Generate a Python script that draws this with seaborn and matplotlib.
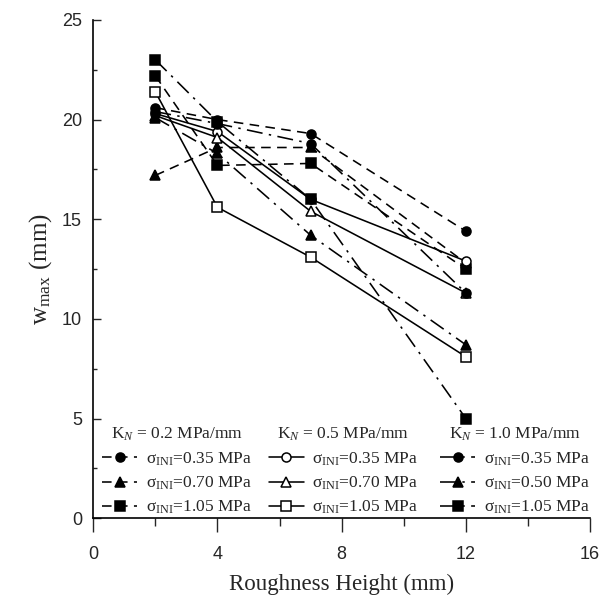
import numpy as np
import pandas as pd
import seaborn as sns
import matplotlib
matplotlib.use("Agg")
import matplotlib.pyplot as plt
from matplotlib.ticker import MultipleLocator

# ---- data ----
roughness = [2, 4, 7, 12]

kn02_s035 = [20.6, 20.0, 19.3, 14.4]
kn02_s070 = [17.2, 18.6, 18.6, 12.8]
kn02_s105 = [22.2, 17.7, 17.8, 12.5]

kn05_s035 = [20.3, 19.4, 16.0, 12.9]
kn05_s070 = [20.2, 19.1, 15.4, 11.3]
kn05_s105 = [21.4, 15.6, 13.1, 8.1]

kn10_s035 = [20.4, 19.8, 18.8, 11.3]
kn10_s050 = [20.1, 18.3, 14.2, 8.7]
kn10_s105 = [23.0, 19.9, 16.0, 5.0]

group_titles = ["K$_N$ = 0.2 MPa/mm", "K$_N$ = 0.5 MPa/mm", "K$_N$ = 1.0 MPa/mm"]
labels_02 = ["σ$_{\\rm INI}$=0.35 MPa", "σ$_{\\rm INI}$=0.70 MPa", "σ$_{\\rm INI}$=1.05 MPa"]
labels_05 = ["σ$_{\\rm INI}$=0.35 MPa", "σ$_{\\rm INI}$=0.70 MPa", "σ$_{\\rm INI}$=1.05 MPa"]
labels_10 = ["σ$_{\\rm INI}$=0.35 MPa", "σ$_{\\rm INI}$=0.50 MPa", "σ$_{\\rm INI}$=1.05 MPa"]

x_ticks = [0, 4, 8, 12, 16]
y_ticks = [0, 5, 10, 15, 20, 25]

# ---- style ----
sns.set_style("ticks")
plt.rcParams["font.family"] = ["Liberation Serif", "DejaVu Serif"]
plt.rcParams["mathtext.fontset"] = "custom"
plt.rcParams["mathtext.rm"] = "Liberation Serif"
plt.rcParams["mathtext.it"] = "Liberation Serif:italic"

fig = plt.figure(figsize=(6.09, 6.04), dpi=100)
ax = fig.add_axes([0.153, 0.142, 0.816, 0.825])

dashed = (0, (6, 4))
dashdot = (0, (10, 4, 1.5, 4))
solid = "-"

groups = [
    ([kn02_s035, kn02_s070, kn02_s105], labels_02, dashed, True),
    ([kn05_s035, kn05_s070, kn05_s105], labels_05, solid, False),
    ([kn10_s035, kn10_s050, kn10_s105], labels_10, dashdot, True),
]
markers = ["o", "^", "s"]

handles_all = []
for vals_list, labels, ls, filled in groups:
    hs = []
    for vals, m in zip(vals_list, markers):
        df = pd.DataFrame({"x": roughness, "y": vals})
        sns.lineplot(data=df, x="x", y="y", ax=ax, color="black", sort=False,
                     errorbar=None, legend=False, marker=m, markersize=6.5,
                     markerfacecolor="black" if filled else "white",
                     markeredgecolor="black", markeredgewidth=1.1,
                     linestyle=ls, linewidth=1.15)
        hs.append(ax.get_lines()[-1])
    handles_all.append((hs, labels))

ax.set_xlim(0, 16)
ax.set_ylim(0, 25)
ax.set_xticks(x_ticks)
ax.set_yticks(y_ticks)
ax.xaxis.set_minor_locator(MultipleLocator(2))
ax.yaxis.set_minor_locator(MultipleLocator(2.5))
ax.tick_params(axis="x", which="major", direction="out", length=10, width=1, pad=10)
ax.tick_params(axis="x", which="minor", direction="out", length=6, width=1)
ax.tick_params(axis="y", which="major", direction="in", length=6, width=1, pad=8)
ax.tick_params(axis="y", which="minor", direction="in", length=3, width=1)
for lab in ax.get_xticklabels() + ax.get_yticklabels():
    lab.set_fontfamily("Liberation Sans")
    lab.set_fontsize(13)
sns.despine(ax=ax)
for s in ["left", "bottom"]:
    ax.spines[s].set_linewidth(1.2)
    ax.spines[s].set_color("black")

ax.set_xlabel("Roughness Height (mm)", fontsize=16.5, labelpad=8)
ax.set_ylabel("w$_{\\rm max}$ (mm)", fontsize=18, labelpad=6)

anchors = [0.015, 0.35, 0.695]
legs = []
for (hs, labels), title, xa in zip(handles_all, group_titles, anchors):
    leg = ax.legend(hs, labels, title=title, loc="lower left",
                    bbox_to_anchor=(xa, 0.0), frameon=False,
                    prop={"family": "Liberation Serif", "size": 12.5},
                    title_fontproperties={"family": "Liberation Serif", "size": 12.5},
                    handlelength=2.0, handletextpad=0.5, labelspacing=0.4,
                    borderpad=0.1, borderaxespad=0.0)
    legs.append(leg)
for leg in legs[:-1]:
    ax.add_artist(leg)

fig.savefig("out.png", dpi=100)
